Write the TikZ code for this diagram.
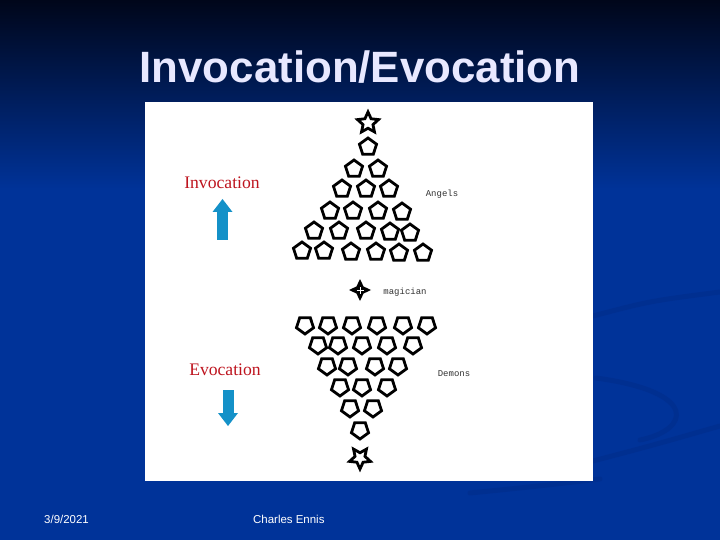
\documentclass[tikz,border=0pt]{standalone}
\usepackage{fontspec}
\setmainfont{Liberation Serif}
\setsansfont{Liberation Sans}
\setmonofont{Liberation Mono}
\usetikzlibrary{shapes.geometric,arrows.meta}
\definecolor{slideblue}{RGB}{0,51,153}
\definecolor{slidetop}{RGB}{0,6,26}
\definecolor{swoosh}{RGB}{0,40,130}
\definecolor{titlefg}{RGB}{232,232,255}
\definecolor{labelred}{RGB}{190,20,30}
\definecolor{arrowblue}{RGB}{20,145,200}
\tikzset{
  angel/.style={draw, line width=2.8bp, regular polygon, regular polygon sides=5,
    minimum size=18bp, inner sep=0pt},
  demon/.style={angel, shape border rotate=180},
  labeltext/.style={font=\fontsize{17.7}{20}\selectfont, text=labelred,
    anchor=base, inner sep=0pt},
  tinytext/.style={font=\ttfamily\fontsize{9}{10}\selectfont, text=black!80,
    inner sep=0pt},
  blockarrow/.style={draw=arrowblue, line width=11bp,
    -{Triangle[width=20bp,length=13bp,line width=0pt]}}
}
\begin{document}
\begin{tikzpicture}[x=1bp,y=-1bp]
    \useasboundingbox (0,0) rectangle (720,540);
    % Slide background
    \fill[slideblue] (0,0) rectangle (720,540);
    \shade[top color=slidetop, bottom color=slideblue] (0,0) rectangle (720,190);
    \begin{scope}[swoosh, line width=5bp, opacity=0.35, line cap=round]
        \draw (593,316) .. controls (650,301) .. (720,292);
        \draw (596,378) .. controls (700,392) and (690,430) .. (640,440);
        \draw (593,461) .. controls (650,446) .. (720,426);
        \draw (470,493) .. controls (530,487) .. (600,479);
    \end{scope}
    % Title and footer
    \node[font=\sffamily\bfseries\fontsize{44}{48}\selectfont, text=titlefg,
        anchor=base] (title) at (360,83) {Invocation/Evocation};
    \node[font=\sffamily\fontsize{11.5}{13}\selectfont, text=white,
        anchor=base west, inner sep=0pt] (date) at (44,523) {3/9/2021};
    \node[font=\sffamily\fontsize{11.5}{13}\selectfont, text=white,
        anchor=base west, inner sep=0pt] (author) at (253,523) {Charles Ennis};
    % Picture panel
    \fill[white] (145,102) rectangle (593,481);
    % Direction labels and arrows
    \node[labeltext] (invlabel) at (222,189) {Invocation};
    \node[labeltext] (evolabel) at (225,375) {Evocation};
    \coordinate (invfoot) at (222.5,240);
    \coordinate (invtip) at (222.5,199);
    \coordinate (evotop) at (228,390);
    \coordinate (evotip) at (228,426);
    \draw[blockarrow] (invfoot) -- (invtip);
    \draw[blockarrow] (evotop) -- (evotip);
    % Angels
    \node[draw, line width=2.8bp, star, star points=5, star point ratio=2.1,
        minimum size=22bp, inner sep=0pt] (topstar) at (368,123) {};
    \foreach \pos [count=\k] in {(368,147),
        (354,169),(378,169),
        (342,189),(366,189),(389,189),
        (330,211),(353,211),(378,211),(402,212),
        (314,231),(339,231),(366,231),(390,232),(410,233),
        (302,251),(324,251),(351,252),(376,252),(399,253),(423,253)}
        \node[angel] (angel\k) at \pos {};
    \node[tinytext] (angels) at (442,194) {Angels};
    % Magician
    \node[star, star points=4, star point ratio=2.2, fill=black,
        minimum size=22bp, inner sep=0pt] (magician) at (360,290) {};
    \draw[white, line width=0.9bp] ([yshift=-3.5bp]magician.center) -- ([yshift=3.5bp]magician.center);
    \draw[white, line width=0.9bp] ([xshift=-3.5bp]magician.center) -- ([xshift=3.5bp]magician.center);
    \node[tinytext] (magicianlabel) at (405,292) {magician};
    % Demons
    \foreach \pos [count=\k] in {(305,325),(328,325),(352,325),(377,325),(403,325),(427,325),
        (318,345),(338,345),(362,345),(387,345),(413,345),
        (327,366),(348,366),(375,366),(398,366),
        (340,387),(362,387),(387,387),
        (350,408),(373,408),
        (360,430)}
        \node[demon] (demon\k) at \pos {};
    \node[draw, line width=2.8bp, star, star points=5, star point ratio=2.1,
        shape border rotate=180, minimum size=22bp, inner sep=0pt] (bottomstar) at (360,458) {};
    \node[tinytext] (demons) at (454,374) {Demons};
\end{tikzpicture}
\end{document}
